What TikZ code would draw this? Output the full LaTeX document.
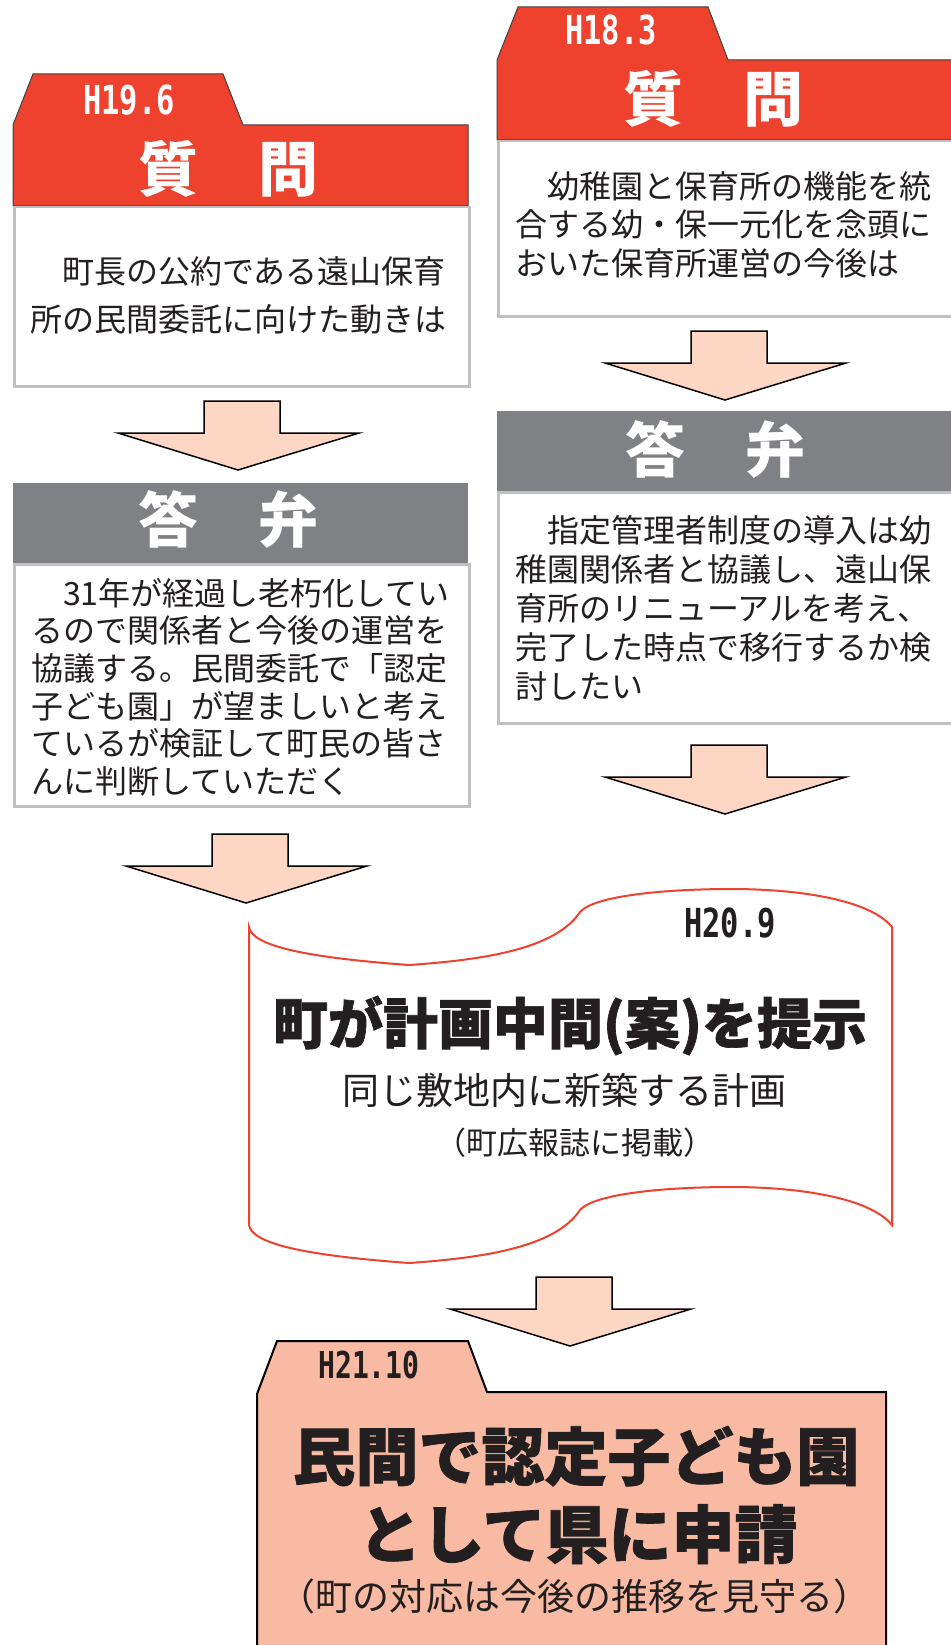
\documentclass[tikz,border=0pt]{standalone}
\usepackage{fontspec}
\usepackage{tikz}
\usetikzlibrary{positioning, calc}
\newfontfamily\jpfont{Noto Sans CJK JP}
\newfontfamily\jpheavy[BoldFeatures={FakeBold=1.2}]{Noto Sans CJK JP}
\newfontfamily\datefont[FakeStretch=0.76]{DejaVu Sans Mono}
\definecolor{qred}{RGB}{238,65,46}
\definecolor{agray}{RGB}{128,129,133}
\definecolor{arrowfill}{RGB}{253,214,196}
\definecolor{resultfill}{RGB}{248,186,162}
\definecolor{boxline}{RGB}{192,192,192}
\definecolor{ink}{RGB}{35,31,32}
\tikzset{
	x=1pt, y=-1pt, % one unit is one pixel, y runs downwards
	tabhead/.style={fill=qred, draw=black!75, line width=1pt}, % red tab of a question
	answerhead/.style={fill=agray, inner sep=0pt, anchor=north west}, % gray bar of an answer
	bodybox/.style={fill=white, draw=boxline, line width=2.5pt, inner sep=0pt, anchor=north west},
	blockarrow/.style={fill=arrowfill, draw=black, line width=1.5pt},
	headtext/.style={text=white, font=\jpfont\bfseries\fontsize{60}{60}\selectfont, inner sep=0pt, anchor=base},
	datetext/.style={font=\datefont\bfseries\fontsize{40}{40}\selectfont, inner sep=0pt, anchor=base west},
	bodytext/.style={text=ink, align=left, inner sep=0pt, anchor=north west},
	pics/downarrow/.style={code={
		\draw[blockarrow] (-34,0) -- (42,0) -- (42,32) -- (121,32) -- (0,69) -- (-120,32) -- (-34,32) -- cycle;
	}},
}

\begin{document}
\begin{tikzpicture}
	\useasboundingbox[fill=white] (0,0) rectangle (950,1645);

	% question, H19.6
	\draw[tabhead] (13,206) -- (13,125) -- (33,74) -- (223,74) -- (243,125) -- (468,125) -- (468,206) -- cycle;
	\node[datetext, text=white] (qAdate) at (83,115) {H19.6};
	\node[headtext] (qAhead) at (228,192) {質　問};
	\node[bodybox, minimum width=455, minimum height=179] (qAbody) at (13,206) {};
	\node[bodytext, font=\jpfont\fontsize{32}{48}\selectfont] (qAtext) at (30,256)
		{　町長の公約である遠山保育\\所の民間委託に向けた動きは};

	% question, H18.3
	\draw[tabhead] (497,140) -- (497,60) -- (518,7) -- (708,7) -- (728,60) -- (955,60) -- (955,140) -- cycle;
	\node[datetext, text=white] (qBdate) at (565,45) {H18.3};
	\node[headtext] (qBhead) at (713,122) {質　問};
	\node[bodybox, minimum width=458, minimum height=175] (qBbody) at (497,140) {};
	\node[bodytext, font=\jpfont\fontsize{32}{38.5}\selectfont] (qBtext) at (515,171)
		{　幼稚園と保育所の機能を統\\合する幼・保一元化を念頭に\\おいた保育所運営の今後は};

	% answers
	\node[answerhead, minimum width=455, minimum height=80] (aAbar) at (13,483) {};
	\node[headtext] (aAhead) at (228,542) {答　弁};
	\node[bodybox, minimum width=455, minimum height=242] (aAbody) at (13,563) {};
	\node[bodytext, font=\jpfont\fontsize{32}{37.6}\selectfont] (aAtext) at (31,578)
		{　31年が経過し老朽化してい\\るので関係者と今後の運営を\\協議する。民間委託で「認定\\子ども園」が望ましいと考え\\ているが検証して町民の皆さ\\んに判断していただく};

	\node[answerhead, minimum width=458, minimum height=80] (aBbar) at (497,411) {};
	\node[headtext] (aBhead) at (715,472) {答　弁};
	\node[bodybox, minimum width=458, minimum height=231] (aBbody) at (497,491) {};
	\node[bodytext, font=\jpfont\fontsize{32}{39}\selectfont] (aBtext) at (515,515)
		{　指定管理者制度の導入は幼\\稚園関係者と協議し、遠山保\\育所のリニューアルを考え、\\完了した時点で移行するか検\\討したい};

	% arrows
	\pic (arrowQA) at (238,401) {downarrow};
	\pic (arrowQB) at (725,331) {downarrow};
	\pic (arrowAB) at (725,745) {downarrow};
	\pic (arrowAA) at (246,834) {downarrow};
	\pic (arrowPlan) at (570,1277) {downarrow};

	% plan, H20.9
	\draw[draw=qred, line width=2pt] (249,927) .. controls (252,945) and (300,957) .. (409,965)
		.. controls (480,960) and (555,950) .. (580,912)
		.. controls (595,895) and (670,889) .. (731,889)
		.. controls (800,889) and (870,900) .. (892,927)
		-- (892,1225)
		.. controls (870,1198) and (800,1187) .. (731,1187)
		.. controls (670,1187) and (595,1193) .. (580,1210)
		.. controls (555,1248) and (480,1258) .. (409,1263)
		.. controls (300,1255) and (252,1243) .. (249,1225)
		-- cycle;
	\node[datetext, text=ink] (planDate) at (684,937) {H20.9};
	\node[text=ink, inner sep=0pt, anchor=base, font=\jpheavy\bfseries\fontsize{55}{55}\selectfont] (planTitle) at (570,1044) {町が計画中間(案)を提示};
	\node[text=ink, inner sep=0pt, anchor=base, font=\jpfont\fontsize{37}{37}\selectfont] (planSub) at (564,1104) {同じ敷地内に新築する計画};
	\node[text=ink, inner sep=0pt, anchor=base, font=\jpfont\fontsize{31}{31}\selectfont] (planNote) at (575,1154) {（町広報誌に掲載）};

	% result, H21.10
	\draw[fill=resultfill, draw=black, line width=2pt] (257,1660) -- (257,1394) -- (277,1341) -- (468,1341) -- (487,1392) -- (886,1392) -- (886,1660);
	\node[datetext, text=ink, font=\datefont\bfseries\fontsize{37}{37}\selectfont] (resDate) at (318,1378) {H21.10};
	\node[text=ink, inner sep=0pt, anchor=base, font=\jpheavy\bfseries\fontsize{63}{63}\selectfont] (resLineA) at (576,1480) {民間で認定子ども園};
	\node[text=ink, inner sep=0pt, anchor=base, font=\jpheavy\bfseries\fontsize{63}{63}\selectfont] (resLineB) at (578,1558) {として県に申請};
	\node[text=ink, inner sep=0pt, anchor=base, font=\jpfont\fontsize{37}{37}\selectfont] (resNote) at (574,1610) {（町の対応は今後の推移を見守る）};
\end{tikzpicture}
\end{document}
